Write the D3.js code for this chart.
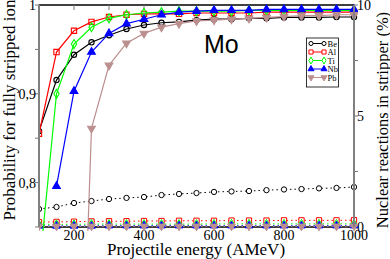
<!DOCTYPE html>
<html>
<head>
<meta charset="utf-8">
<script src="https://cdn.jsdelivr.net/npm/d3@7"></script>
<style>
body { margin: 0; background: #fff; }
text { font-family: "Liberation Serif", "DejaVu Serif", serif; }
</style>
</head>
<body>
<div class="container"></div>
<script>
var energy = [100, 150, 200, 250, 300, 350, 400, 450, 500, 550, 600, 650, 700, 750, 800, 850, 900, 950, 1000];

// probability of fully stripped ion (left axis)
var probBe = [0.858, 0.9155, 0.944, 0.958, 0.966, 0.973, 0.9775, 0.980, 0.981, 0.983, 0.984, 0.984, 0.985, 0.985, 0.986, 0.986, 0.986, 0.9865, 0.9865];
var probAl = [0.855, 0.947, 0.971, 0.981, 0.9865, 0.989, 0.990, 0.990, 0.990, 0.991, 0.991, 0.991, 0.991, 0.992, 0.992, 0.992, 0.992, 0.992, 0.992];
var probTi = [0.70, 0.900, 0.956, 0.975, 0.985, 0.989, 0.991, 0.992, 0.993, 0.993, 0.993, 0.993, 0.994, 0.994, 0.994, 0.994, 0.994, 0.994, 0.994];
var probNb = [null, 0.796, 0.903, 0.947, 0.968, 0.979, 0.984, 0.989, 0.992, 0.993, 0.994, 0.994, 0.994, 0.995, 0.995, 0.995, 0.995, 0.995, 0.995];
var probPb = [null, null, 0.30, 0.861, 0.932, 0.957, 0.968, 0.975, 0.979, 0.982, 0.983, 0.984, 0.985, 0.986, 0.987, 0.988, 0.988, 0.989, 0.989];

// nuclear reactions in stripper, % (right axis)
var nucBe = [0.81, 0.90, 1.08, 1.17, 1.26, 1.31, 1.35, 1.44, 1.49, 1.53, 1.58, 1.60, 1.62, 1.66, 1.69, 1.71, 1.74, 1.76, 1.80];
var nucAl = [0.22, 0.23, 0.24, 0.25, 0.26, 0.26, 0.27, 0.27, 0.28, 0.28, 0.28, 0.29, 0.29, 0.29, 0.30, 0.30, 0.30, 0.30, 0.31];
var nucTi = [0.12, 0.12, 0.12, 0.13, 0.13, 0.13, 0.13, 0.13, 0.13, 0.13, 0.14, 0.14, 0.14, 0.14, 0.14, 0.14, 0.14, 0.14, 0.14];
var nucNb = [0.05, 0.05, 0.05, 0.05, 0.06, 0.06, 0.06, 0.06, 0.06, 0.06, 0.06, 0.06, 0.06, 0.06, 0.06, 0.06, 0.06, 0.06, 0.06];
var nucPb = [0.03, 0.03, 0.03, 0.03, 0.03, 0.03, 0.03, 0.03, 0.03, 0.03, 0.03, 0.03, 0.03, 0.03, 0.03, 0.03, 0.03, 0.03, 0.03];

var names = ['Be', 'Al', 'Ti', 'Nb', 'Pb'];
var colors = ['#000000', '#ff0000', '#00ff00', '#0000ff', '#bc8f8f'];
var shapes = [d3.symbolCircle, d3.symbolSquare, d3.symbolDiamond, d3.symbolTriangle, d3.symbolTriangle];
var sizes = [22, 28, 24, 26, 26];
var filled = [false, false, false, true, true];
var flip = [false, false, false, false, true];
var probs = [probBe, probAl, probTi, probNb, probPb];
var nucs = [nucBe, nucAl, nucTi, nucNb, nucPb];

var xTicks = [200, 400, 600, 800, 1000];
var yTicks = [0.8, 0.9, 1];
var yTickLabels = ['0,8', '0,9', '1'];
var y2Ticks = [0, 5, 10];

var W = 390, H = 259;
var L = 39, R = 354, T = 5, B = 227;

var svg = d3.select('.container').append('svg')
	.attr('width', W)
	.attr('height', H);

var x = d3.scaleLinear().domain([100, 1000]).range([L, R]);
var y = d3.scaleLinear().domain([0.75, 1]).range([B, T]);
var y2 = d3.scaleLinear().domain([0, 10]).range([B, T]);

svg.append('defs').append('clipPath').attr('id', 'plot')
	.append('rect').attr('x', L).attr('y', T - 4).attr('width', R - L + 4).attr('height', B - T + 8);

// frame: top/bottom black, left/right grey
svg.append('line').attr('x1', L).attr('x2', R).attr('y1', T).attr('y2', T).attr('stroke', '#000').attr('stroke-width', 1.3);
svg.append('line').attr('x1', L).attr('x2', R).attr('y1', B).attr('y2', B).attr('stroke', '#000').attr('stroke-width', 1.3);

// x ticks (top and bottom, inward)
d3.range(100, 1001, 100).forEach(function(v) {
	svg.append('line').attr('x1', x(v)).attr('x2', x(v)).attr('y1', T).attr('y2', T + 5).attr('stroke', '#777').attr('stroke-width', 1);
	svg.append('line').attr('x1', x(v)).attr('x2', x(v)).attr('y1', B).attr('y2', B - 5).attr('stroke', '#777').attr('stroke-width', 1);
});
svg.append('g').selectAll('text').data(xTicks).enter().append('text')
	.attr('x', function(d) { return x(d); })
	.attr('y', 240)
	.attr('text-anchor', 'middle')
	.attr('font-size', 14)
	.text(function(d) { return d; });

// left ticks
[0.75, 0.8, 0.85, 0.9, 0.95, 1].forEach(function(v) {
	svg.append('line').attr('x1', L - 4).attr('x2', L).attr('y1', y(v)).attr('y2', y(v)).attr('stroke', '#777').attr('stroke-width', 1);
});
svg.append('g').selectAll('text').data(yTicks).enter().append('text')
	.attr('x', 36)
	.attr('y', function(d) { return y(d) + 5; })
	.attr('text-anchor', 'end')
	.attr('font-size', 14)
	.text(function(d, i) { return yTickLabels[i]; });

// right ticks
[0, 2.5, 5, 7.5, 10].forEach(function(v) {
	svg.append('line').attr('x1', R).attr('x2', R + 4).attr('y1', y2(v)).attr('y2', y2(v)).attr('stroke', '#777').attr('stroke-width', 1);
});
svg.append('g').selectAll('text').data(y2Ticks).enter().append('text')
	.attr('x', 357)
	.attr('y', function(d) { return y2(d) + 5; })
	.attr('font-size', 14)
	.text(function(d) { return d; });

var plot = svg.append('g').attr('clip-path', 'url(#plot)');

function symbolPath(i, k) {
	return d3.symbol().type(shapes[i]).size(sizes[i] * (k || 1))();
}

// nuclear reaction curves (dotted)
nucs.forEach(function(series, i) {
	var pts = energy.map(function(e, k) { return [e, series[k]]; });
	plot.append('path')
		.datum(pts)
		.attr('fill', 'none')
		.attr('stroke', colors[i])
		.attr('stroke-width', 1)
		.attr('stroke-dasharray', '1.5,3')
		.attr('d', d3.line().x(function(d) { return x(d[0]); }).y(function(d) { return y2(d[1]); }));
	plot.append('g').selectAll('path').data(pts).enter().append('path')
		.attr('transform', function(d) { return 'translate(' + x(d[0]) + ',' + y2(d[1]) + ')' + (flip[i] ? ' rotate(180)' : ''); })
		.attr('d', symbolPath(i))
		.attr('fill', filled[i] ? colors[i] : '#fff')
		.attr('stroke', colors[i])
		.attr('stroke-width', 1);
});

// probability curves (solid)
probs.forEach(function(series, i) {
	var pts = energy.map(function(e, k) { return [e, series[k]]; })
		.filter(function(d) { return d[1] != null; });
	plot.append('path')
		.datum(pts)
		.attr('fill', 'none')
		.attr('stroke', colors[i])
		.attr('stroke-width', 1.2)
		.attr('d', d3.line().x(function(d) { return x(d[0]); }).y(function(d) { return y(d[1]); }));
	plot.append('g').selectAll('path').data(pts.filter(function(d) { return d[1] >= 0.75; })).enter().append('path')
		.attr('transform', function(d) { return 'translate(' + x(d[0]) + ',' + y(d[1]) + ')' + (flip[i] ? ' rotate(180)' : ''); })
		.attr('d', symbolPath(i))
		.attr('fill', filled[i] ? colors[i] : 'none')
		.attr('stroke', colors[i])
		.attr('stroke-width', 1.1);
});

// left / right axis lines (grey)
svg.append('line').attr('x1', L).attr('x2', L).attr('y1', T).attr('y2', B).attr('stroke', '#808080').attr('stroke-width', 2);
svg.append('line').attr('x1', R).attr('x2', R).attr('y1', T).attr('y2', B).attr('stroke', '#808080').attr('stroke-width', 2);

// titles
svg.append('text')
	.attr('transform', 'translate(15,110) rotate(-90)')
	.attr('text-anchor', 'middle')
	.attr('font-size', 17)
	.text('Probability for fully stripped ion');
svg.append('text')
	.attr('transform', 'translate(388,120) rotate(-90)')
	.attr('text-anchor', 'middle')
	.attr('font-size', 16.5)
	.text('Nuclear reactions in stripper (%)');
svg.append('text')
	.attr('x', 196)
	.attr('y', 255)
	.attr('text-anchor', 'middle')
	.attr('font-size', 17)
	.text('Projectile energy (AMeV)');

svg.append('text')
	.attr('x', 204)
	.attr('y', 53)
	.style('font-family', '"Liberation Sans", Arial, sans-serif')
	.attr('font-size', 25)
	.text('Mo');

// legend
var leg = svg.append('g');
leg.append('rect').attr('x', 306.5).attr('y', 38).attr('width', 32).attr('height', 49)
	.attr('fill', '#fff').attr('stroke', '#000').attr('stroke-width', 0.8);
names.forEach(function(n, i) {
	var ly = 43.5 + i * 8.5;
	leg.append('line').attr('x1', 311).attr('x2', 324).attr('y1', ly).attr('y2', ly)
		.attr('stroke', colors[i]).attr('stroke-width', 1);
	[311, 324].forEach(function(mx) {
		leg.append('path')
			.attr('transform', 'translate(' + mx + ',' + ly + ')' + (flip[i] ? ' rotate(180)' : ''))
			.attr('d', symbolPath(i, 0.6))
			.attr('fill', filled[i] ? colors[i] : '#fff')
			.attr('stroke', colors[i])
			.attr('stroke-width', 1);
	});
	leg.append('text').attr('x', 327.5).attr('y', ly + 3).attr('font-size', 8.5).text(n);
});
</script>
</body>
</html>
